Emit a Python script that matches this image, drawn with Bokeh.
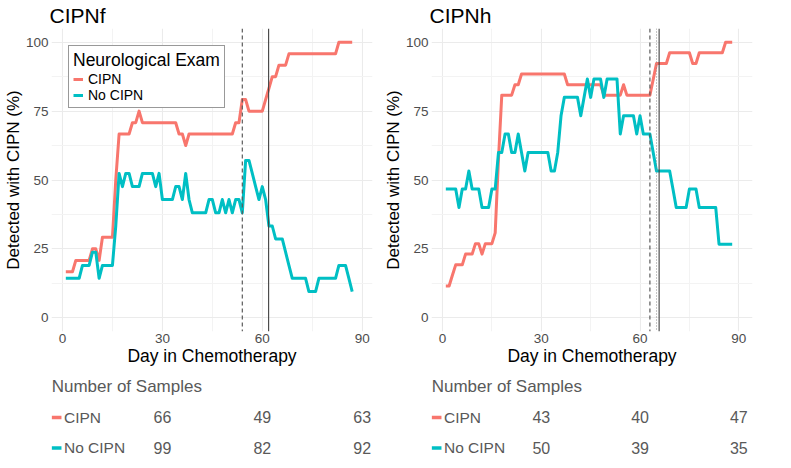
from bokeh.plotting import figure
from bokeh.models import Range1d, FixedTicker, Legend, LegendItem, Span
from bokeh.layouts import row, column
from bokeh.embed import file_html
from bokeh.resources import INLINE
from bokeh.core.properties import value

# ---------------- data ----------------
series_labels = ["CIPN", "No CIPN"]

cipnf_cipn_day = [1, 3, 4, 8, 9, 10, 11, 12, 15, 16, 17, 20, 21, 22, 23, 24, 34, 35, 36, 37,
                  38, 51, 52, 53, 54, 55, 56, 60, 61, 62, 63, 64, 65, 67, 68, 82, 83, 87]
cipnf_cipn_pct = [16.7, 16.7, 20.8, 20.8, 25.0, 25.0, 20.8, 29.2, 29.2, 50.0,
                  66.7, 66.7, 70.8, 70.8, 75.0, 70.8, 70.8, 66.7, 66.7, 62.5,
                  66.7, 66.7, 70.8, 70.8, 79.2, 79.2, 75.0, 75.0, 79.2, 83.3,
                  87.5, 87.5, 91.7, 91.7, 95.8, 95.8, 100.0, 100.0]

cipnf_nocipn_day = [1, 5, 6, 8, 9, 10, 11, 12, 15, 16, 17, 18, 19, 20, 21, 23, 24, 27, 28, 29,
                    30, 33, 34, 35, 36, 37, 38, 39, 43, 44, 45, 46, 47, 48, 49, 50, 51, 52, 53, 54,
                    55, 56, 57, 58, 59, 60, 61, 62, 63, 64, 66, 67, 68, 69, 73, 74, 76, 77, 82, 83,
                    85, 86, 87]
cipnf_nocipn_pct = [14.3, 14.3, 19.0, 19.0, 23.8, 23.8, 14.3, 19.0, 19.0, 33.3,
                    52.4, 47.6, 52.4, 52.4, 47.6, 47.6, 52.4, 52.4, 47.6, 52.4,
                    42.9, 42.9, 47.6, 47.6, 42.9, 52.4, 42.9, 38.1, 38.1, 42.9,
                    42.9, 38.1, 38.1, 42.9, 38.1, 42.9, 38.1, 42.9, 42.9, 38.1,
                    57.1, 57.1, 52.4, 47.6, 42.9, 47.6, 42.9, 33.3, 33.3, 28.6,
                    28.6, 23.8, 19.0, 14.3, 14.3, 9.5, 9.5, 14.3, 14.3, 19.0,
                    19.0, 14.3, 9.5]

cipnh_cipn_day = [1, 2, 3, 4, 6, 7, 9, 10, 11, 12, 13, 15, 16, 17, 18, 21, 22, 23, 24, 37,
                  38, 48, 49, 54, 55, 56, 63, 64, 65, 68, 69, 75, 76, 77, 78, 85, 86, 88]
cipnh_cipn_pct = [11.5, 11.5, 15.4, 19.2, 19.2, 23.1, 23.1, 26.9, 26.9, 23.1,
                  26.9, 26.9, 30.8, 57.7, 80.8, 80.8, 84.6, 84.6, 88.5, 88.5,
                  84.6, 84.6, 80.8, 80.8, 84.6, 80.8, 80.8, 86.5, 92.3, 92.3,
                  96.2, 96.2, 92.3, 92.3, 96.2, 96.2, 100.0, 100.0]

cipnh_nocipn_day = [1, 4, 5, 6, 7, 8, 9, 11, 12, 14, 15, 16, 17, 18, 19, 20, 21, 22, 23, 24,
                    25, 26, 32, 33, 34, 35, 36, 37, 41, 42, 43, 44, 45, 46, 48, 49, 50, 53, 54, 55,
                    58, 59, 60, 61, 63, 64, 65, 69, 70, 71, 74, 75, 77, 78, 83, 84, 88]
cipnh_nocipn_pct = [46.7, 46.7, 40.0, 46.7, 46.7, 53.3, 46.7, 46.7, 40.0, 40.0,
                    46.7, 46.7, 60.0, 60.0, 66.7, 66.7, 60.0, 60.0, 66.7, 60.0,
                    53.3, 60.0, 60.0, 53.3, 53.3, 60.0, 73.3, 80.0, 80.0, 73.3,
                    80.0, 86.7, 80.0, 86.7, 86.7, 80.0, 86.7, 86.7, 66.7, 73.3,
                    73.3, 66.7, 73.3, 66.7, 66.7, 60.0, 53.3, 53.3, 46.7, 40.0,
                    40.0, 46.7, 46.7, 40.0, 40.0, 26.7, 26.7]

cipnf_dashed_day = [54.0]
cipnf_dotted_day = []
cipnf_solid_day = [61.9]
cipnh_dashed_day = [63.0]
cipnh_dotted_day = [65.0]
cipnh_solid_day = [65.8]

sample_days = [30, 60, 90]
cipnf_n_cipn = [66, 49, 63]
cipnf_n_nocipn = [99, 82, 92]
cipnh_n_cipn = [43, 40, 47]
cipnh_n_nocipn = [50, 39, 35]

x_ticks = [0, 30, 60, 90]
x_minor = [15, 45, 75]
y_ticks = [0, 25, 50, 75, 100]
y_minor = [12.5, 37.5, 62.5, 87.5]

# ---------------- style ----------------
RED = "#F8766D"
TEAL = "#00BFC4"
FONT = "Liberation Sans"
PANEL_W = 316     # width of the ggplot-like panel
EXTRA_W = 6       # extra room on the right so the table numbers at day 90 are not clipped
FRAME_W = PANEL_W + EXTRA_W
H, BT, BB = 372, 28, 41
TH = 94


def make_panel(title, c_day, c_pct, n_day, n_pct, dashed, dotted, solid,
               n_cipn, n_nocipn, show_legend, bl, br):
    w = bl + FRAME_W + br
    lo = min(c_day + n_day)
    hi = max(c_day + n_day)
    pad = 0.05 * (hi - lo)
    dpp = (hi - lo + 2 * pad) / PANEL_W
    xr = Range1d(lo - pad, hi + pad + EXTRA_W * dpp)
    yr = Range1d(-5, 105)
    p = figure(width=w, height=H, x_range=xr, y_range=yr,
               output_backend="svg", toolbar_location=None,
               min_border_left=bl, min_border_right=br,
               min_border_top=BT, min_border_bottom=BB)
    p.outline_line_color = None
    p.background_fill_color = "white"
    p.border_fill_color = "white"

    p.title.text = title
    p.title.text_font = FONT
    p.title.text_font_size = "21px"
    p.title.text_font_style = "normal"
    p.title.text_color = "black"
    p.title.text_line_height = 1.0
    p.title.align = "left"
    p.title.standoff = 3
    p.title.offset = -2

    xt = FixedTicker(ticks=x_ticks, minor_ticks=x_minor)
    yt = FixedTicker(ticks=y_ticks, minor_ticks=y_minor)
    p.xaxis.ticker = xt
    p.yaxis.ticker = yt
    p.xgrid.ticker = xt
    p.ygrid.ticker = yt
    for ax in (p.xaxis, p.yaxis):
        ax.axis_line_color = None
        ax.major_tick_line_color = None
        ax.minor_tick_line_color = None
        ax.major_tick_out = 0
        ax.major_tick_in = 0
        ax.minor_tick_out = 0
        ax.minor_tick_in = 0
        ax.major_label_text_font = FONT
        ax.major_label_text_font_size = "13.5px"
        ax.major_label_text_color = "#4d4d4d"
        ax.axis_label_text_font = FONT
        ax.axis_label_text_font_size = "17.5px"
        ax.axis_label_text_font_style = "normal"
        ax.axis_label_text_color = "black"
    p.yaxis.axis_label_text_font_size = "17px"
    p.xaxis.major_label_standoff = 2
    p.yaxis.major_label_standoff = 3
    p.xaxis.axis_label = "Day in Chemotherapy"
    p.xaxis.axis_label_standoff = 0
    p.yaxis.axis_label = "Detected with CIPN (%)"
    p.yaxis.axis_label_standoff = 0

    for g in (p.xgrid, p.ygrid):
        g.grid_line_color = "#ebebeb"
        g.grid_line_width = 1.1
        g.minor_grid_line_color = "#f3f3f3"
        g.minor_grid_line_width = 1

    for d in dashed:
        p.add_layout(Span(location=d, dimension="height", line_color="#5a5a5a",
                          line_width=1.2, line_dash="4 3"))
    for d in dotted:
        p.add_layout(Span(location=d, dimension="height", line_color="#8a8a8a",
                          line_width=1, line_dash="1 2"))
    for d in solid:
        p.add_layout(Span(location=d, dimension="height", line_color="#404040",
                          line_width=1.1))

    r1 = p.line(c_day, c_pct, line_color=RED, line_width=3, line_join="round")
    r2 = p.line(n_day, n_pct, line_color=TEAL, line_width=3, line_join="round")

    if show_legend:
        leg = Legend(items=[LegendItem(label=series_labels[0], renderers=[r1]),
                            LegendItem(label=series_labels[1], renderers=[r2])],
                     title="Neurological Exam", location="top_left", margin=17,
                     padding=4, spacing=0, label_standoff=5,
                     glyph_width=10, glyph_height=12, label_height=12,
                     title_standoff=0,
                     border_line_color="#333333", border_line_width=1,
                     background_fill_color="white", background_fill_alpha=1)
        leg.title_text_font = FONT
        leg.title_text_font_size = "17.5px"
        leg.title_text_font_style = "normal"
        leg.title_text_color = "black"
        leg.title_text_line_height = 1.0
        leg.label_text_font = FONT
        leg.label_text_font_size = "14px"
        leg.label_text_color = "black"
        leg.label_text_line_height = 0.9
        p.add_layout(leg)

    # ---- table of sample counts (its frame is aligned with the plot above) ----
    t = figure(width=w, height=TH, x_range=Range1d(xr.start, xr.end),
               y_range=Range1d(0, TH), output_backend="svg", toolbar_location=None,
               min_border_left=bl, min_border_right=br, min_border_top=0,
               min_border_bottom=0, x_axis_type=None, y_axis_type=None)
    t.outline_line_color = None
    t.xgrid.visible = False
    t.ygrid.visible = False
    t.background_fill_color = "white"
    t.border_fill_color = "white"
    y_head, y_c, y_n = 80.5, 49.5, 19.0
    grey = "#595959"
    t.text(x=[xr.start + 0.2 * dpp], y=[y_head], text=["Number of Samples"],
           text_font=value(FONT), text_font_size=value("17px"), text_color=grey,
           text_align="left", text_baseline="middle")
    t.segment(x0=[xr.start + 0.2 * dpp] * 2, x1=[xr.start + 10 * dpp] * 2,
              y0=[y_c - 0.5, y_n - 0.5], y1=[y_c - 0.5, y_n - 0.5],
              line_color=[RED, TEAL], line_width=3.5)
    t.text(x=[xr.start + 12.5 * dpp] * 2, y=[y_c, y_n], text=series_labels,
           text_font=value(FONT), text_font_size=value("15.5px"), text_color=grey,
           text_align="left", text_baseline="middle")
    t.text(x=sample_days, y=[y_c] * 3, text=[str(v) for v in n_cipn],
           text_font=value(FONT), text_font_size=value("16px"), text_color=grey,
           text_align="center", text_baseline="middle")
    t.text(x=sample_days, y=[y_n] * 3, text=[str(v) for v in n_nocipn],
           text_font=value(FONT), text_font_size=value("16px"), text_color=grey,
           text_align="center", text_baseline="middle")
    return column(p, t, spacing=0)


left = make_panel("CIPNf", cipnf_cipn_day, cipnf_cipn_pct, cipnf_nocipn_day, cipnf_nocipn_pct,
                  cipnf_dashed_day, cipnf_dotted_day, cipnf_solid_day,
                  cipnf_n_cipn, cipnf_n_nocipn, True, 50, 8)
right = make_panel("CIPNh", cipnh_cipn_day, cipnh_cipn_pct, cipnh_nocipn_day, cipnh_nocipn_pct,
                   cipnh_dashed_day, cipnh_dotted_day, cipnh_solid_day,
                   cipnh_n_cipn, cipnh_n_nocipn, False, 50, 38)

layout = row(left, right, spacing=0)
open("out.html", "w").write(file_html(layout, INLINE))
